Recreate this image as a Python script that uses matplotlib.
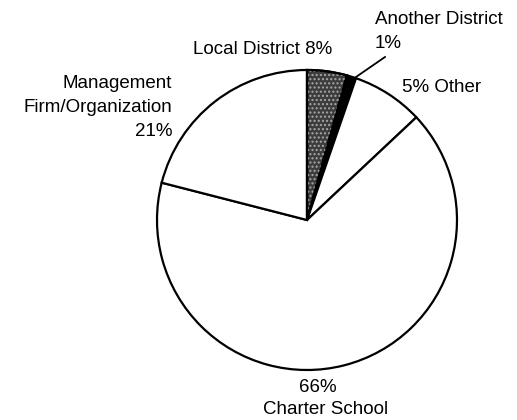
import matplotlib
matplotlib.use("Agg")
import matplotlib.pyplot as plt
from matplotlib.patches import Wedge

plt.rcParams['font.family'] = ['Liberation Sans', 'DejaVu Sans']

# Wedge sizes as drawn in the picture (clockwise from 12 o'clock)
categories = ["Local District", "Another District", "Other", "Charter School", "Management Firm/Organization"]
values = [4.3, 1.0, 7.7, 66.0, 21.0]
label_texts = ["Local District 8%", "Another District\n1%", "5% Other",
               "66%\nCharter School", "Management\nFirm/Organization\n21%"]
colors = ["#3c3c3c", "#000000", "#ffffff", "#ffffff", "#ffffff"]

W, H = 517, 420
fig = plt.figure(figsize=(W / 100, H / 100), dpi=100)
ax = fig.add_axes([0, 0, 1, 1])

cx, cy, r = 307, H - 220, 150
wedges, _ = ax.pie(values, colors=colors, startangle=90, counterclock=False,
                   center=(cx, cy), radius=r, frame=True,
                   wedgeprops=dict(edgecolor='black', linewidth=1.6))
ax.set_xlim(0, W)
ax.set_ylim(0, H)
ax.set_aspect('equal')
ax.axis('off')

# stipple texture on the Local District wedge
w0 = wedges[0]
plt.rcParams['hatch.linewidth'] = 1.0
tex = Wedge(w0.center, w0.r, w0.theta1, w0.theta2, facecolor='none',
            edgecolor='#a8a8a8', linewidth=0, hatch='....', zorder=w0.get_zorder() + 0.1)
ax.add_patch(tex)
outline = Wedge(w0.center, w0.r, w0.theta1, w0.theta2, facecolor='none',
                edgecolor='black', linewidth=1.6, zorder=w0.get_zorder() + 0.2)
ax.add_patch(outline)

fs = 13.5
ax.text(193, H - 50, label_texts[0], ha='left', va='center', fontsize=fs)
ax.text(375, H - 20, label_texts[1].split("\n")[0], ha='left', va='center', fontsize=fs)
ax.text(375, H - 43, label_texts[1].split("\n")[1], ha='left', va='center', fontsize=fs)
ax.text(402, H - 88, label_texts[2], ha='left', va='center', fontsize=fs)
ax.text(318, H - 388, label_texts[3].split("\n")[0], ha='center', va='center', fontsize=fs)
ax.text(326, H - 410, label_texts[3].split("\n")[1], ha='center', va='center', fontsize=fs)
for i, line in enumerate(label_texts[4].split("\n")):
    ax.text(172, H - (83 + 24.5 * i), line, ha='right', va='center', fontsize=fs)

# leader line for "Another District"
ax.plot([356, 385], [H - 77, H - 57], color='black', linewidth=1.3)

fig.savefig("out.png", dpi=100)
